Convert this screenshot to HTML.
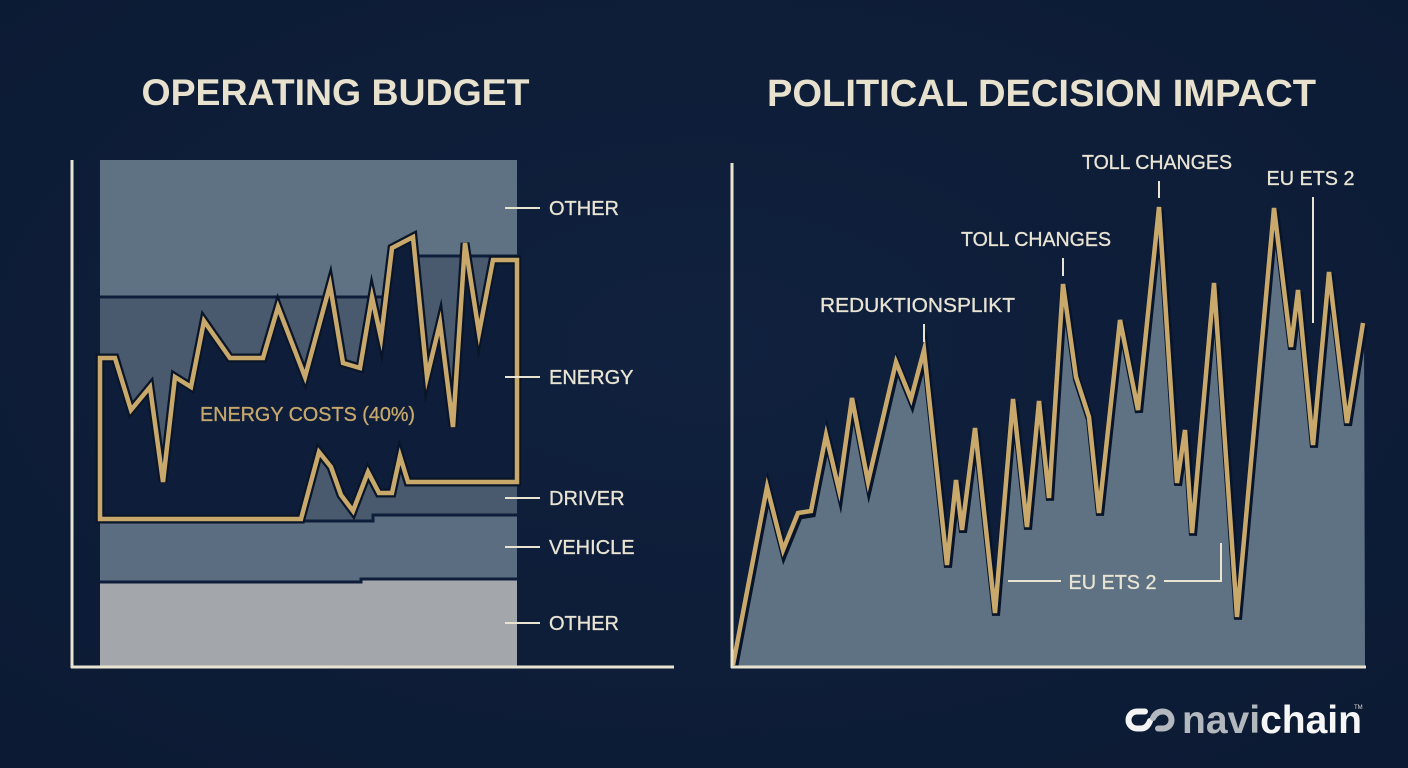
<!DOCTYPE html>
<html>
<head>
<meta charset="utf-8">
<style>
  html, body { margin: 0; padding: 0; background: #0e1e3a; }
  body { width: 1408px; height: 768px; overflow: hidden; }
  svg { display: block; }
  text { font-family: "Liberation Sans", sans-serif; }
</style>
</head>
<body>
<svg width="1408" height="768" viewBox="0 0 1408 768" xmlns="http://www.w3.org/2000/svg">
  <defs>
    <radialGradient id="bg" cx="50%" cy="45%" r="75%">
      <stop offset="0" stop-color="#10213e"/>
      <stop offset="1" stop-color="#0c1a33"/>
    </radialGradient>
  </defs>
  <rect x="0" y="0" width="1408" height="768" fill="url(#bg)"/>

  <!-- Titles -->
  <text x="335.5" y="105" text-anchor="middle" font-size="37" font-weight="bold" fill="#e7e1cd" textLength="388" lengthAdjust="spacingAndGlyphs">OPERATING BUDGET</text>
  <text x="1041.5" y="106" text-anchor="middle" font-size="38" font-weight="bold" fill="#e7e1cd" textLength="549" lengthAdjust="spacingAndGlyphs">POLITICAL DECISION IMPACT</text>

  <!-- ============ LEFT CHART ============ -->
  <rect x="100" y="160" width="417" height="507" fill="#4a5a6e"/>
  <polygon points="100,160 517,160 517,256 418,256 418,297 100,297" fill="#5e7283"/>
  <polyline points="100,297 418,297 418,256 517,256" fill="none" stroke="#0e1e3a" stroke-width="3"/>

  <polygon points="100,522 373,522 373,516 517,516 517,667 100,667" fill="#5b6d80"/>
  <polygon points="100,583 361,583 361,580 517,580 517,667 100,667" fill="#a3a6aa"/>
  <polyline points="100,521 373,521 373,515 517,515" fill="none" stroke="#0e1e3a" stroke-width="3"/>
  <polyline points="100,582 361,582 361,579 517,579" fill="none" stroke="#0e1e3a" stroke-width="3"/>

  <g>
    <path d="M100,358 L115,358 L131,410 L150,387 L163,482 L175,377 L191,387 L204,321 L230,358 L263,358 L278,307 L305,377 L330,285 L343,363 L360,368 L372,297 L381,338 L392,248 L413,237 L427,377 L440,323 L453,427 L465,243 L479,333 L493,260 L517,260 L517,482 L408,482 L400,456 L392,493 L379,493 L368,472 L353,511 L341,495 L331,467 L319,452 L301,519 L100,519 Z" fill="#0e1e3a" stroke="#0a1528" stroke-width="9" stroke-linejoin="miter" stroke-miterlimit="6"/>
    <path d="M100,358 L115,358 L131,410 L150,387 L163,482 L175,377 L191,387 L204,321 L230,358 L263,358 L278,307 L305,377 L330,285 L343,363 L360,368 L372,297 L381,338 L392,248 L413,237 L427,377 L440,323 L453,427 L465,243 L479,333 L493,260 L517,260 L517,482 L408,482 L400,456 L392,493 L379,493 L368,472 L353,511 L341,495 L331,467 L319,452 L301,519 L100,519 Z" fill="none" stroke="#c9a96b" stroke-width="4.5" stroke-linejoin="miter" stroke-miterlimit="6"/>
  </g>
  <text x="307.5" y="421" text-anchor="middle" font-size="20" fill="#c6a86c" stroke="#c6a86c" stroke-width="0.3" textLength="215" lengthAdjust="spacingAndGlyphs">ENERGY COSTS (40%)</text>

  <line x1="72" y1="160" x2="72" y2="668" stroke="#e9e4d2" stroke-width="3"/>
  <line x1="71" y1="667" x2="674" y2="667" stroke="#e9e4d2" stroke-width="3"/>

  <g stroke="#e9e4d2" stroke-width="2">
    <line x1="505" y1="208" x2="540" y2="208"/>
    <line x1="505" y1="377" x2="540" y2="377"/>
    <line x1="505" y1="498" x2="540" y2="498"/>
    <line x1="505" y1="547" x2="540" y2="547"/>
    <line x1="505" y1="623" x2="540" y2="623"/>
  </g>
  <g font-size="20" fill="#e9e4d4" stroke="#e9e4d4" stroke-width="0.3">
    <text x="549" y="215">OTHER</text>
    <text x="549" y="384">ENERGY</text>
    <text x="549" y="505">DRIVER</text>
    <text x="549" y="554">VEHICLE</text>
    <text x="549" y="630">OTHER</text>
  </g>

  <!-- ============ RIGHT CHART ============ -->
  <polygon points="733,665 767,487 783,550 798,513 811,511 826,435 839,490 852,398 868,482 896,362 911,399 924,350 947,565 956,480 962,530 975,428 995,613 1013,399 1027,527 1039,401 1049,498 1063,284 1076,377 1089,417 1099,513 1120,320 1138,410 1159,207 1177,483 1185,430 1192,533 1214,283 1237,617 1274,208 1291,347 1298,290 1313,445 1329,272 1347,423 1364,323 1365,667 733,667" fill="#5f7283"/>
  <polyline transform="translate(1,2.5)" points="733,665 767,487 783,550 798,513 811,511 826,435 839,490 852,398 868,482 896,362 911,399 924,350 947,565 956,480 962,530 975,428 995,613 1013,399 1027,527 1039,401 1049,498 1063,284 1076,377 1089,417 1099,513 1120,320 1138,410 1159,207 1177,483 1185,430 1192,533 1214,283 1237,617 1274,208 1291,347 1298,290 1313,445 1329,272 1347,423 1363,323" fill="none" stroke="#08142a" stroke-width="8" stroke-linejoin="miter" stroke-miterlimit="6"/>
  <polyline points="733,665 767,487 783,550 798,513 811,511 826,435 839,490 852,398 868,482 896,362 911,399 924,350 947,565 956,480 962,530 975,428 995,613 1013,399 1027,527 1039,401 1049,498 1063,284 1076,377 1089,417 1099,513 1120,320 1138,410 1159,207 1177,483 1185,430 1192,533 1214,283 1237,617 1274,208 1291,347 1298,290 1313,445 1329,272 1347,423 1363,323" fill="none" stroke="#c9a96b" stroke-width="4.5" stroke-linejoin="miter" stroke-miterlimit="6"/>

  <line x1="732" y1="163" x2="732" y2="668" stroke="#e9e4d2" stroke-width="3"/>
  <line x1="731" y1="667" x2="1366" y2="667" stroke="#e9e4d2" stroke-width="3"/>

  <g stroke="#e9e4d2" stroke-width="2" fill="none">
    <line x1="924" y1="324" x2="924" y2="342"/>
    <line x1="1063" y1="258" x2="1063" y2="276"/>
    <line x1="1159" y1="181" x2="1159" y2="198"/>
    <line x1="1313" y1="197" x2="1313" y2="323"/>
    <line x1="1008" y1="581" x2="1061" y2="581"/>
    <polyline points="1164,581 1221,581 1221,543"/>
  </g>
  <g font-size="20" fill="#e9e4d4" stroke="#e9e4d4" stroke-width="0.3" text-anchor="middle">
    <text x="917.5" y="312" textLength="195" lengthAdjust="spacingAndGlyphs">REDUKTIONSPLIKT</text>
    <text x="1036" y="246" textLength="150" lengthAdjust="spacingAndGlyphs">TOLL CHANGES</text>
    <text x="1157" y="169" textLength="150" lengthAdjust="spacingAndGlyphs">TOLL CHANGES</text>
    <text x="1310.5" y="185" textLength="88" lengthAdjust="spacingAndGlyphs">EU ETS 2</text>
    <text x="1112.5" y="589" textLength="88" lengthAdjust="spacingAndGlyphs">EU ETS 2</text>
  </g>

  <!-- logo -->
  <g fill="none" stroke-width="6" stroke-linecap="round" stroke-linejoin="round">
    <path d="M1145,711.5 H1137 A8.5,8.5 0 0 0 1137,728.5 H1141 Q1147,728.5 1150,721" stroke="#f4f4f4"/>
    <path d="M1153,718 Q1156,711.5 1163,711.5 A8.5,8.5 0 0 1 1163,728.5 H1158" stroke="#b3b8bf"/>
  </g>
  <text x="1182" y="733" font-size="39" font-weight="bold" textLength="180" lengthAdjust="spacingAndGlyphs"><tspan fill="#b3b8bf">navi</tspan><tspan fill="#f6f6f6">chain</tspan></text>
  <text x="1354" y="709" font-size="6" fill="#d8d8d8">TM</text>
</svg>
</body>
</html>
